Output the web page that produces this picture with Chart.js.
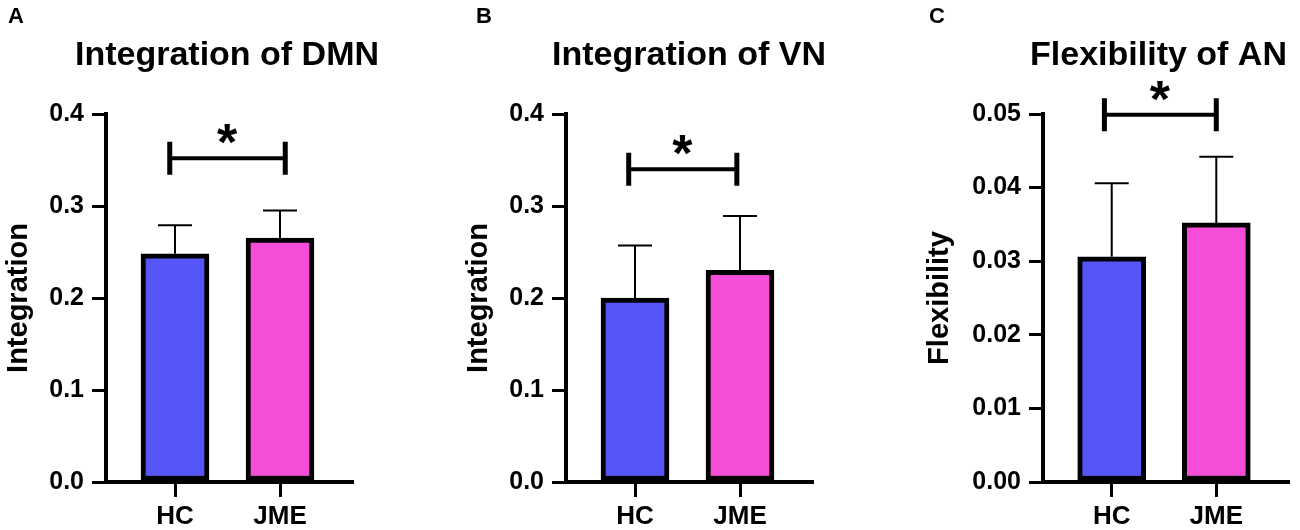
<!DOCTYPE html>
<html>
<head>
<meta charset="utf-8">
<script src="https://cdn.jsdelivr.net/npm/chart.js@4.4.1/dist/chart.umd.min.js"></script>
<style>
  html, body { margin: 0; padding: 0; background: #fff; }
  .panel { position: absolute; top: 0; height: 530px; }
</style>
</head>
<body>
<div class="panel" style="left:0;width:440px"><canvas id="chartA"></canvas></div>
<div class="panel" style="left:440px;width:430px"><canvas id="chartB"></canvas></div>
<div class="panel" style="left:870px;width:430px"><canvas id="chartC"></canvas></div>
<script>
// DATA
const groups = ['HC', 'JME'];

const dmnMean = [0.248, 0.265];
const dmnSd = [0.031, 0.030];
const dmnTicks = [0, 0.1, 0.2, 0.3, 0.4];
const dmnBracket = [0.95, 2.05, 0.352];   // from x, to x, level

const vnMean = [0.200, 0.230];
const vnSd = [0.057, 0.059];
const vnTicks = [0, 0.1, 0.2, 0.3, 0.4];
const vnBracket = [0.94, 1.97, 0.340];

const anMean = [0.0306, 0.0352];
const anSd = [0.0100, 0.0090];
const anTicks = [0, 0.01, 0.02, 0.03, 0.04, 0.05];
const anBracket = [0.93, 2.0, 0.0499];

const FONT = "'Liberation Sans', Arial, sans-serif";
const barColors = ['#5656F8', '#F64DD8'];

function annotations(cfg) {
    return {
        id: 'annot-' + cfg.letter,
        afterDatasetsDraw(chart) {
            const {ctx, chartArea, scales: {x, y}} = chart;
            const bars = chart.getDatasetMeta(0).data;
            ctx.save();
            ctx.strokeStyle = '#000';
            ctx.fillStyle = '#000';

            // error bars (mean + SD)
            ctx.lineWidth = 2;
            bars.forEach((bar, i) => {
                const top = y.getPixelForValue(cfg.mean[i] + cfg.sd[i]);
                ctx.beginPath();
                ctx.moveTo(bar.x, bar.y);
                ctx.lineTo(bar.x, top);
                ctx.moveTo(bar.x - 17, top);
                ctx.lineTo(bar.x + 17, top);
                ctx.stroke();
            });

            // significance bracket
            const x0 = x.getPixelForValue(cfg.bracket[0]);
            const x1 = x.getPixelForValue(cfg.bracket[1]);
            const yb = y.getPixelForValue(cfg.bracket[2]);
            ctx.lineWidth = 4;
            ctx.beginPath();
            ctx.moveTo(x0, yb);
            ctx.lineTo(x1, yb);
            ctx.stroke();
            ctx.lineWidth = 5;
            ctx.beginPath();
            ctx.moveTo(x0, yb - 16.5);
            ctx.lineTo(x0, yb + 16.5);
            ctx.moveTo(x1, yb - 16.5);
            ctx.lineTo(x1, yb + 16.5);
            ctx.stroke();

            // star
            ctx.font = 'bold 52px ' + FONT;
            const m = ctx.measureText('*');
            const sx = (x0 + x1) / 2 - (m.actualBoundingBoxRight - m.actualBoundingBoxLeft) / 2;
            const sy = yb - 24 + (m.actualBoundingBoxAscent - m.actualBoundingBoxDescent) / 2;
            ctx.textAlign = 'left';
            ctx.textBaseline = 'alphabetic';
            ctx.fillText('*', sx + m.actualBoundingBoxLeft, sy);

            // title + panel letter
            ctx.textAlign = 'center';
            ctx.font = 'bold 34px ' + FONT;
            ctx.fillText(cfg.title, (chartArea.left + chartArea.right) / 2 + cfg.titleShift, 65);
            ctx.font = 'bold 22px ' + FONT;
            ctx.fillText(cfg.letter, cfg.letterX, 23);
            ctx.restore();
        }
    };
}

function makePanel(cfg) {
    const last = cfg.ticks[cfg.ticks.length - 1];
    new Chart(document.getElementById(cfg.id), {
        type: 'bar',
        data: {
            datasets: [{
                data: cfg.mean.map((v, i) => ({x: i + 1, y: v})),
                backgroundColor: barColors,
                borderColor: '#000',
                borderWidth: 5,
                borderSkipped: false,
                barThickness: 68
            }]
        },
        options: {
            responsive: true,
            maintainAspectRatio: false,
            animation: false,
            events: [],
            layout: {
                padding: {left: 0, right: cfg.padRight, top: 114, bottom: 0}
            },
            scales: {
                x: {
                    type: 'linear',
                    offset: false,
                    min: 1 - 69 / 105,
                    max: 2 + 72 / 105,
                    afterBuildTicks: s => { s.ticks = groups.map((g, i) => ({value: i + 1})); },
                    afterFit: s => { s.height = 48; },
                    ticks: {
                        callback: v => groups[v - 1],
                        color: '#000',
                        font: {family: FONT, size: 26, weight: 'bold'},
                        padding: 4,
                        autoSkip: false,
                        maxRotation: 0
                    },
                    grid: {
                        offset: false,
                        drawOnChartArea: false,
                        tickLength: 15,
                        lineWidth: 3,
                        tickColor: '#000'
                    },
                    border: {color: '#000', width: 4}
                },
                y: {
                    min: 0,
                    max: last,
                    afterBuildTicks: s => { s.ticks = cfg.ticks.map(v => ({value: v})); },
                    afterFit: s => { s.width = cfg.yWidth; },
                    ticks: {
                        callback: v => v.toFixed(cfg.decimals),
                        color: '#000',
                        font: {family: FONT, size: 25, weight: 'bold'},
                        padding: 8
                    },
                    grid: {
                        drawOnChartArea: false,
                        tickLength: 14,
                        lineWidth: 3,
                        tickColor: '#000'
                    },
                    border: {color: '#000', width: 4},
                    title: {
                        display: true,
                        text: cfg.yTitle,
                        color: '#000',
                        font: {family: FONT, size: 29, weight: 'bold'},
                        padding: {top: cfg.yTitlePad, bottom: 0}
                    }
                }
            },
            plugins: {
                legend: {display: false},
                tooltip: {enabled: false}
            }
        },
        plugins: [annotations(cfg)]
    });
}

makePanel({
    id: 'chartA', letter: 'A', letterX: 16, title: 'Integration of DMN', yTitle: 'Integration',
    mean: dmnMean, sd: dmnSd, ticks: dmnTicks, decimals: 1, bracket: dmnBracket,
    yWidth: 106, padRight: 88, yTitlePad: 2, titleShift: -2
});
makePanel({
    id: 'chartB', letter: 'B', letterX: 44, title: 'Integration of VN', yTitle: 'Integration',
    mean: vnMean, sd: vnSd, ticks: vnTicks, decimals: 1, bracket: vnBracket,
    yWidth: 126, padRight: 58, yTitlePad: 22, titleShift: 0
});
makePanel({
    id: 'chartC', letter: 'C', letterX: 67, title: 'Flexibility of AN', yTitle: 'Flexibility',
    mean: anMean, sd: anSd, ticks: anTicks, decimals: 2, bracket: anBracket,
    yWidth: 173, padRight: 12, yTitlePad: 53, titleShift: -7
});
</script>
</body>
</html>
